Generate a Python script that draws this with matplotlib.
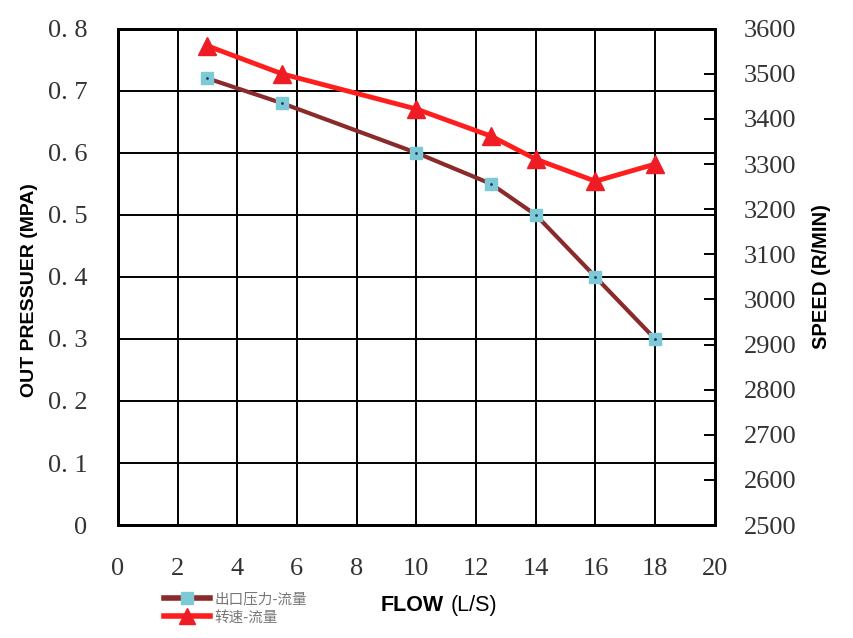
import matplotlib.pyplot as plt
from matplotlib.lines import Line2D

flow = [3, 5.5, 10, 12.5, 14, 16, 18]
pressure = [0.72, 0.68, 0.60, 0.55, 0.50, 0.40, 0.30]
speed = [3562, 3500, 3422, 3362, 3311, 3262, 3300]

x_ticks = list(range(0, 21, 2))
p_ticks = [0, 0.1, 0.2, 0.3, 0.4, 0.5, 0.6, 0.7, 0.8]
p_labels = ['0', '0. 1', '0. 2', '0. 3', '0. 4', '0. 5', '0. 6', '0. 7', '0. 8']
s_ticks = list(range(2500, 3601, 100))
legend_labels = ['出口压力-流量', '转速-流量']

fig = plt.figure(figsize=(8.54, 6.38), dpi=100)
ax = fig.add_axes([0.138, 0.177, 0.699, 0.778])
ax2 = ax.twinx()

serif = 'Liberation Serif'
tick_col = '#333333'

ax.set_xlim(0, 20)
ax.set_ylim(0, 0.8)
ax.set_xticks(x_ticks)
ax.set_yticks(p_ticks)
ax.set_yticklabels(p_labels)
ax.grid(True, color='black', linewidth=1.4)
ax.tick_params(axis='y', length=0, pad=22, labelsize=19, labelcolor=tick_col)
ax.tick_params(axis='x', length=0, pad=24, labelsize=19, labelcolor=tick_col)
for lab in ax.get_xticklabels() + ax.get_yticklabels():
    lab.set_fontfamily(serif)
for sp in ax.spines.values():
    sp.set_linewidth(2)

ax2.set_ylim(2500, 3600)
ax2.set_yticks(s_ticks)
ax2.tick_params(direction='in', length=8, width=1.4, pad=21, labelsize=19, labelcolor=tick_col)
for lab in ax2.get_yticklabels():
    lab.set_fontfamily(serif)
for sp in ax2.spines.values():
    sp.set_linewidth(2)

# pressure curve
ax.plot(flow, pressure, color='#8B2A2A', linewidth=3, zorder=3)
ax.plot(flow, pressure, linestyle='none', marker='s', markersize=9,
        markerfacecolor='#7DCAD6', markeredgecolor='#7DCAD6', zorder=4)
ax.plot(flow, pressure, linestyle='none', marker='.', markersize=2,
        color='#1a3a5a', zorder=5)
# speed curve
ax2.plot(flow, speed, color='#FF1E1E', linewidth=3.5, marker='^', markersize=13,
         markerfacecolor='#EE1C25', markeredgecolor='#EE1C25', zorder=3)

ax.set_ylabel('OUT PRESSUER (MPA)', fontsize=14, fontweight='bold',
              family='Liberation Sans')
ax.yaxis.set_label_coords(-0.133, 0.474)
ax2.set_ylabel('SPEED (R/MIN)', fontsize=14.5, fontweight='bold',
               family='Liberation Sans', labelpad=11)

fig.text(0.446, 0.042, 'FLOW', fontsize=15.5, fontweight='bold', family='Liberation Sans')
fig.text(0.528, 0.042, '(L/S)', fontsize=15.5, family='Liberation Sans')

handles = [
    Line2D([], [], color='#8B2A2A', linewidth=4, marker='s', markersize=8,
           markerfacecolor='#7DCAD6', markeredgecolor='#7DCAD6'),
    Line2D([], [], color='#FF1E1E', linewidth=4, marker='^', markersize=11,
           markerfacecolor='#EE1C25', markeredgecolor='#EE1C25'),
]
leg = fig.legend(handles, legend_labels, loc='lower left', bbox_to_anchor=(0.185, 0.012),
                 frameon=False, handlelength=3.2, handletextpad=0.3,
                 labelspacing=0.3, borderaxespad=0,
                 prop={'family': ['Noto Sans CJK SC', 'DejaVu Sans'], 'size': 10.5})
for t in leg.get_texts():
    t.set_color('#777777')

fig.savefig('out.png', dpi=100)
